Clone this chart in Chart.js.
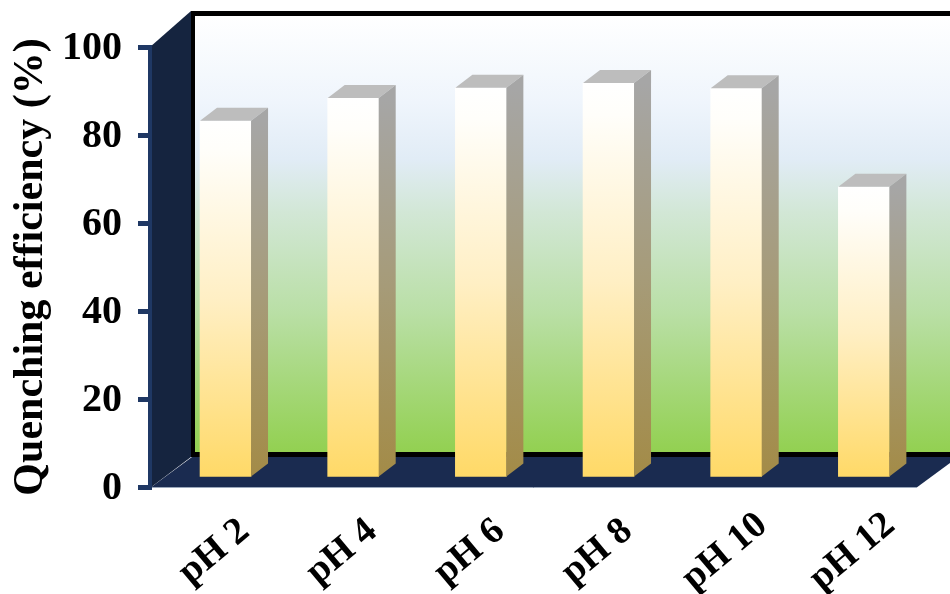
<!DOCTYPE html>
<html>
<head>
<meta charset="utf-8">
<style>
  html, body { margin: 0; padding: 0; background: #fff; }
  #wrap { width: 950px; height: 594px; position: relative; }
</style>
<script src="https://cdn.jsdelivr.net/npm/chart.js@4"></script>
</head>
<body>
<div id="wrap"><canvas id="c" width="950" height="594"></canvas></div>
<script>
const categories = ['pH 2', 'pH 4', 'pH 6', 'pH 8', 'pH 10', 'pH 12'];
const quenching = [81.4, 86.6, 88.9, 90.0, 88.8, 66.4];
const yRange = [0, 100];
const yStep = 20;
const axisTitle = 'Quenching efficiency (%)';

// Oblique projection used for the 3D look (pixels)
const wallDepth = { dx: 42, dy: 33 };
const barShift = { dx: 11.7, dy: 8 };
const barDepth = { dx: 17, dy: 13 };

function vertical(ctx, y0, y1, stops) {
  const g = ctx.createLinearGradient(0, y0, 0, y1);
  stops.forEach(([p, col]) => g.addColorStop(p, col));
  return g;
}

function poly(ctx, pts, fill) {
  ctx.beginPath();
  pts.forEach(([x, y], i) => (i ? ctx.lineTo(x, y) : ctx.moveTo(x, y)));
  ctx.closePath();
  ctx.fillStyle = fill;
  ctx.fill();
}

const FRONT_STOPS = [[0, '#ffffff'], [0.08, '#fffefa'], [0.5, '#ffefc4'], [1, '#ffd966']];
const SIDE_STOPS = [[0, '#a6a6a6'], [0.5, '#a69b78'], [1, '#a38b47']];

// Back wall, side wall and floor sit behind the axes
const roomPlugin = {
  id: 'room',
  beforeDraw(chart) {
    const { ctx, chartArea: a, width } = chart;
    const { dx, dy } = wallDepth;
    const backL = a.left + dx, backT = a.top - dy, backB = a.bottom - dy;
    ctx.save();
    ctx.fillStyle = vertical(ctx, backT, backB, [
      [0, '#ffffff'], [0.2, '#eff5fc'], [0.33, '#e1ecf6'], [0.45, '#d2e7d6'],
      [0.68, '#b9dfa5'], [1, '#92d050']
    ]);
    ctx.fillRect(backL, backT, width - backL, backB - backT);
    // frame along the top and bottom of the back wall, and its left edge
    ctx.fillStyle = '#000000';
    ctx.fillRect(backL - 1, backT - 3, width - backL + 1, 5);
    ctx.fillRect(backL - 1, backT - 3, 4, backB - backT + 5);
    ctx.fillRect(backL - 1, backB - 2, width - backL + 1, 5);
    // floor
    poly(ctx, [[a.left, a.bottom + 1], [a.right, a.bottom + 1],
      [a.right + dx, a.bottom - dy + 3], [a.left + dx, a.bottom - dy + 3]], '#1a2b50');
    // side wall
    poly(ctx, [[a.left, a.top], [backL - 1, backT - 3], [backL - 1, backB + 3], [a.left, a.bottom + 1]], '#15243f');
    ctx.restore();
  },
  beforeDatasetDraw(chart) {
    chart.ctx.save();
    chart.ctx.translate(barShift.dx, -barShift.dy);
  },
  afterDatasetDraw(chart) {
    const { ctx } = chart;
    chart.getDatasetMeta(0).data.forEach((bar) => {
      const { x, y, base, width } = bar.getProps(['x', 'y', 'base', 'width'], true);
      const l = x - width / 2, r = x + width / 2;
      const { dx, dy } = barDepth;
      poly(ctx, [[l, y], [l + dx, y - dy], [r + dx, y - dy], [r, y]], '#bdbdbd');
      poly(ctx, [[r, y], [r + dx, y - dy], [r + dx, base - dy], [r, base]],
        vertical(ctx, y, base, SIDE_STOPS));
    });
    ctx.restore();
  }
};

// Category labels rotate about their own centre, which the built-in ticks cannot do
const centredLabels = {
  id: 'centredLabels',
  afterDraw(chart) {
    const { ctx, chartArea } = chart;
    const x = chart.scales.x;
    ctx.save();
    ctx.font = 'bold 38px "Liberation Serif"';
    ctx.fillStyle = '#000000';
    ctx.textAlign = 'center';
    ctx.textBaseline = 'middle';
    x.ticks.forEach((tick, i) => {
      ctx.save();
      ctx.translate(x.getPixelForTick(i) + 0.5, chartArea.bottom + 65);
      ctx.rotate(-40 * Math.PI / 180);
      ctx.fillText(x.getLabelForValue(tick.value), 0, 0);
      ctx.restore();
    });
    ctx.restore();
  }
};

new Chart(document.getElementById('c'), {
  type: 'bar',
  data: {
    labels: categories,
    datasets: [{
      data: quenching,
      barThickness: 51,
      borderWidth: 0,
      backgroundColor(c) {
        const s = c.chart.scales.y;
        const top = s && c.parsed ? s.getPixelForValue(c.parsed.y) : NaN;
        const bottom = s ? s.getPixelForValue(0) : NaN;
        if (!Number.isFinite(top) || !Number.isFinite(bottom)) return '#ffd966';
        return vertical(c.chart.ctx, top, bottom, FRONT_STOPS);
      }
    }]
  },
  options: {
    responsive: false,
    animation: false,
    layout: { padding: { top: 47, right: 34, left: 0, bottom: 0 } },
    plugins: { legend: { display: false }, tooltip: { enabled: false } },
    scales: {
      x: {
        afterFit(s) { s.height = 107; },
        grid: { display: false, drawTicks: false },
        border: { display: true, color: '#9aa7bb', width: 1 },
        ticks: { display: false, autoSkip: false }
      },
      y: {
        min: yRange[0],
        max: yRange[1],
        afterFit(s) { s.width = 150; },
        grid: { drawOnChartArea: false, color: '#1f3864', lineWidth: 5, tickLength: 12 },
        border: { display: true, color: '#1f3864', width: 4 },
        ticks: {
          stepSize: yStep,
          color: '#000',
          padding: 16,
          labelOffset: 2,
          font: { family: '"Liberation Serif"', weight: 'bold', size: 40 }
        },
        title: {
          display: true,
          text: axisTitle,
          color: '#000',
          padding: { top: 6, bottom: 0 },
          font: { family: '"Liberation Serif"', weight: 'bold', size: 42 }
        }
      }
    }
  },
  plugins: [roomPlugin, centredLabels]
});
</script>
</body>
</html>
